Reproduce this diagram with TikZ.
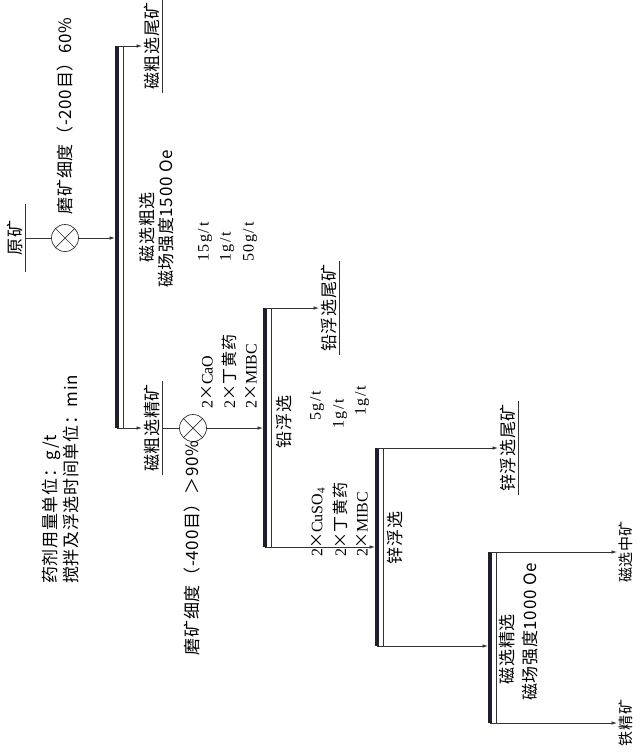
\documentclass[tikz,border=0pt]{standalone}
\usepackage{fontspec}
\setmainfont{Liberation Serif}
\newfontfamily\cjk[LetterSpace=4]{Noto Sans CJK SC}
\newfontfamily\dose[LetterSpace=10]{Liberation Serif}
\usetikzlibrary{arrows.meta}
\definecolor{barc}{RGB}{30,30,45}
\tikzset{
  flow/.style={line width=0.7pt,black!80,-{Latex[length=5.5pt,width=3.5pt]}},
  rail/.style={line width=0.7pt,black!80},
  sepbar/.style={line width=4pt,barc},
  mix/.style={circle,draw,black!80,line width=0.7pt,minimum size=27pt,inner sep=0pt},
  prod/.style={rotate=90,anchor=north,inner xsep=3pt,inner ysep=2pt,font=\cjk\fontsize{17}{19}\selectfont},
  lbl/.style={rotate=90,inner sep=1pt,font=\cjk\fontsize{17}{20}\selectfont},
  reag/.style={rotate=90,anchor=west,inner sep=1pt,font=\fontsize{16}{18}\selectfont},
  dos/.style={rotate=90,anchor=west,inner sep=1pt,font=\dose\fontsize{16}{18}\selectfont},
}
\begin{document}
\begin{tikzpicture}[x=1pt,y=-1pt]
\useasboundingbox (0,0) rectangle (640,753);
% separation bars
\coordinate (b1t) at (117,46);  \coordinate (b1b) at (117,428);
\coordinate (b2t) at (265,308); \coordinate (b2b) at (265,547);
\coordinate (b3t) at (377,448); \coordinate (b3b) at (377,646);
\coordinate (b4t) at (490,552); \coordinate (b4b) at (490,723);
\foreach \b in {b1,b2,b3,b4} {
  \draw[sepbar] (\b t) -- (\b b);
  \draw[rail] ([xshift=6pt]\b t) -- ([xshift=6pt]\b b);
}

% feed and grinding
\node[lbl,anchor=south,minimum width=67pt,inner ysep=2pt] (ore) at (25,238) {原矿};
\node[mix] (g1) at (65,238) {};
\node[lbl] (f1) at (65,116) {磨矿细度（-200目）60\%};
\coordinate (b1in) at (115,238);
\draw[rail] (ore.south) -- (g1);
\draw[flow] (g1) -- (b1in);

% magnetic roughing
\node[prod] (t1) at (142,46) {磁粗选尾矿};
\node[prod] (c1) at (142,428) {磁粗选精矿};
\draw[flow] (b1t) -- (t1.north);
\draw[flow] (b1b) -- (c1.north);
\node[lbl] (n1a) at (147,227) {磁选粗选};
\node[lbl] (n1b) at (166,219) {磁场强度1500 Oe};

% regrinding
\node[mix] (g2) at (193,428) {};
\node[lbl] (f2) at (192,548) {磨矿细度（-400目）＞90\%};
\coordinate (b2in) at (263,428);
\draw[rail] (c1.south) -- (g2);
\draw[flow] (g2) -- (b2in);
\foreach \x/\t [count=\i] in {207/2{\cjk ×}CaO, 229/2{\cjk ×丁黄药}, 251/2{\cjk ×}MIBC}
  \node[reag] (ra\i) at (\x,410) {\t};
\foreach \x/\y/\t [count=\i] in {205/263/{15g/t}, 227/263/{1g/t}, 250/263/{50g/t}}
  \node[dos] (da\i) at (\x,\y) {\t};

% lead flotation
\node[prod] (t2) at (319,308) {铅浮选尾矿};
\draw[flow] (b2t) -- (t2.north);
\node[lbl] (n2) at (284,422) {铅浮选};
\coordinate (b3in) at (375,547);
\draw[flow] (b2b) -- (b3in);
\foreach \x/\t [count=\i] in {318/2{\cjk ×}CuSO\textsubscript{4}, 340/2{\cjk ×丁黄药}, 362/2{\cjk ×}MIBC}
  \node[reag] (rb\i) at (\x,558) {\t};
\foreach \x/\y/\t [count=\i] in {317/422/{5g/t}, 340/430/{1g/t}, 362/417/{1g/t}}
  \node[dos] (db\i) at (\x,\y) {\t};

% zinc flotation
\node[prod] (t3) at (498,448) {锌浮选尾矿};
\draw[flow] (b3t) -- (t3.north);
\node[lbl] (n3) at (395,538) {锌浮选};
\coordinate (b4in) at (488,646);
\draw[flow] (b3b) -- (b4in);

% magnetic cleaning
\node[prod,font=\cjk\fontsize{15}{17}\selectfont] (m4) at (617,552) {磁选中矿};
\node[prod,font=\cjk\fontsize{15}{17}\selectfont] (fe) at (617,723) {铁精矿};
\draw[flow] (b4t) -- (m4.north);
\draw[flow] (b4b) -- (fe.north);
\node[lbl] (n4a) at (507,649) {磁选精选};
\node[lbl] (n4b) at (530,632) {磁场强度1000 Oe};

% units
\node[lbl,anchor=west] (u1) at (51,585) {药剂用量单位：g/t};
\node[lbl,anchor=west] (u2) at (71,585) {搅拌及浮选时间单位：min};

\foreach \g in {g1,g2}
  \draw[rail] (\g.north west) -- (\g.south east) (\g.north east) -- (\g.south west);
\foreach \n in {ore,t1,c1,t2,t3}
  \draw[rail] (\n.south west) -- (\n.south east);
\end{tikzpicture}
\end{document}
